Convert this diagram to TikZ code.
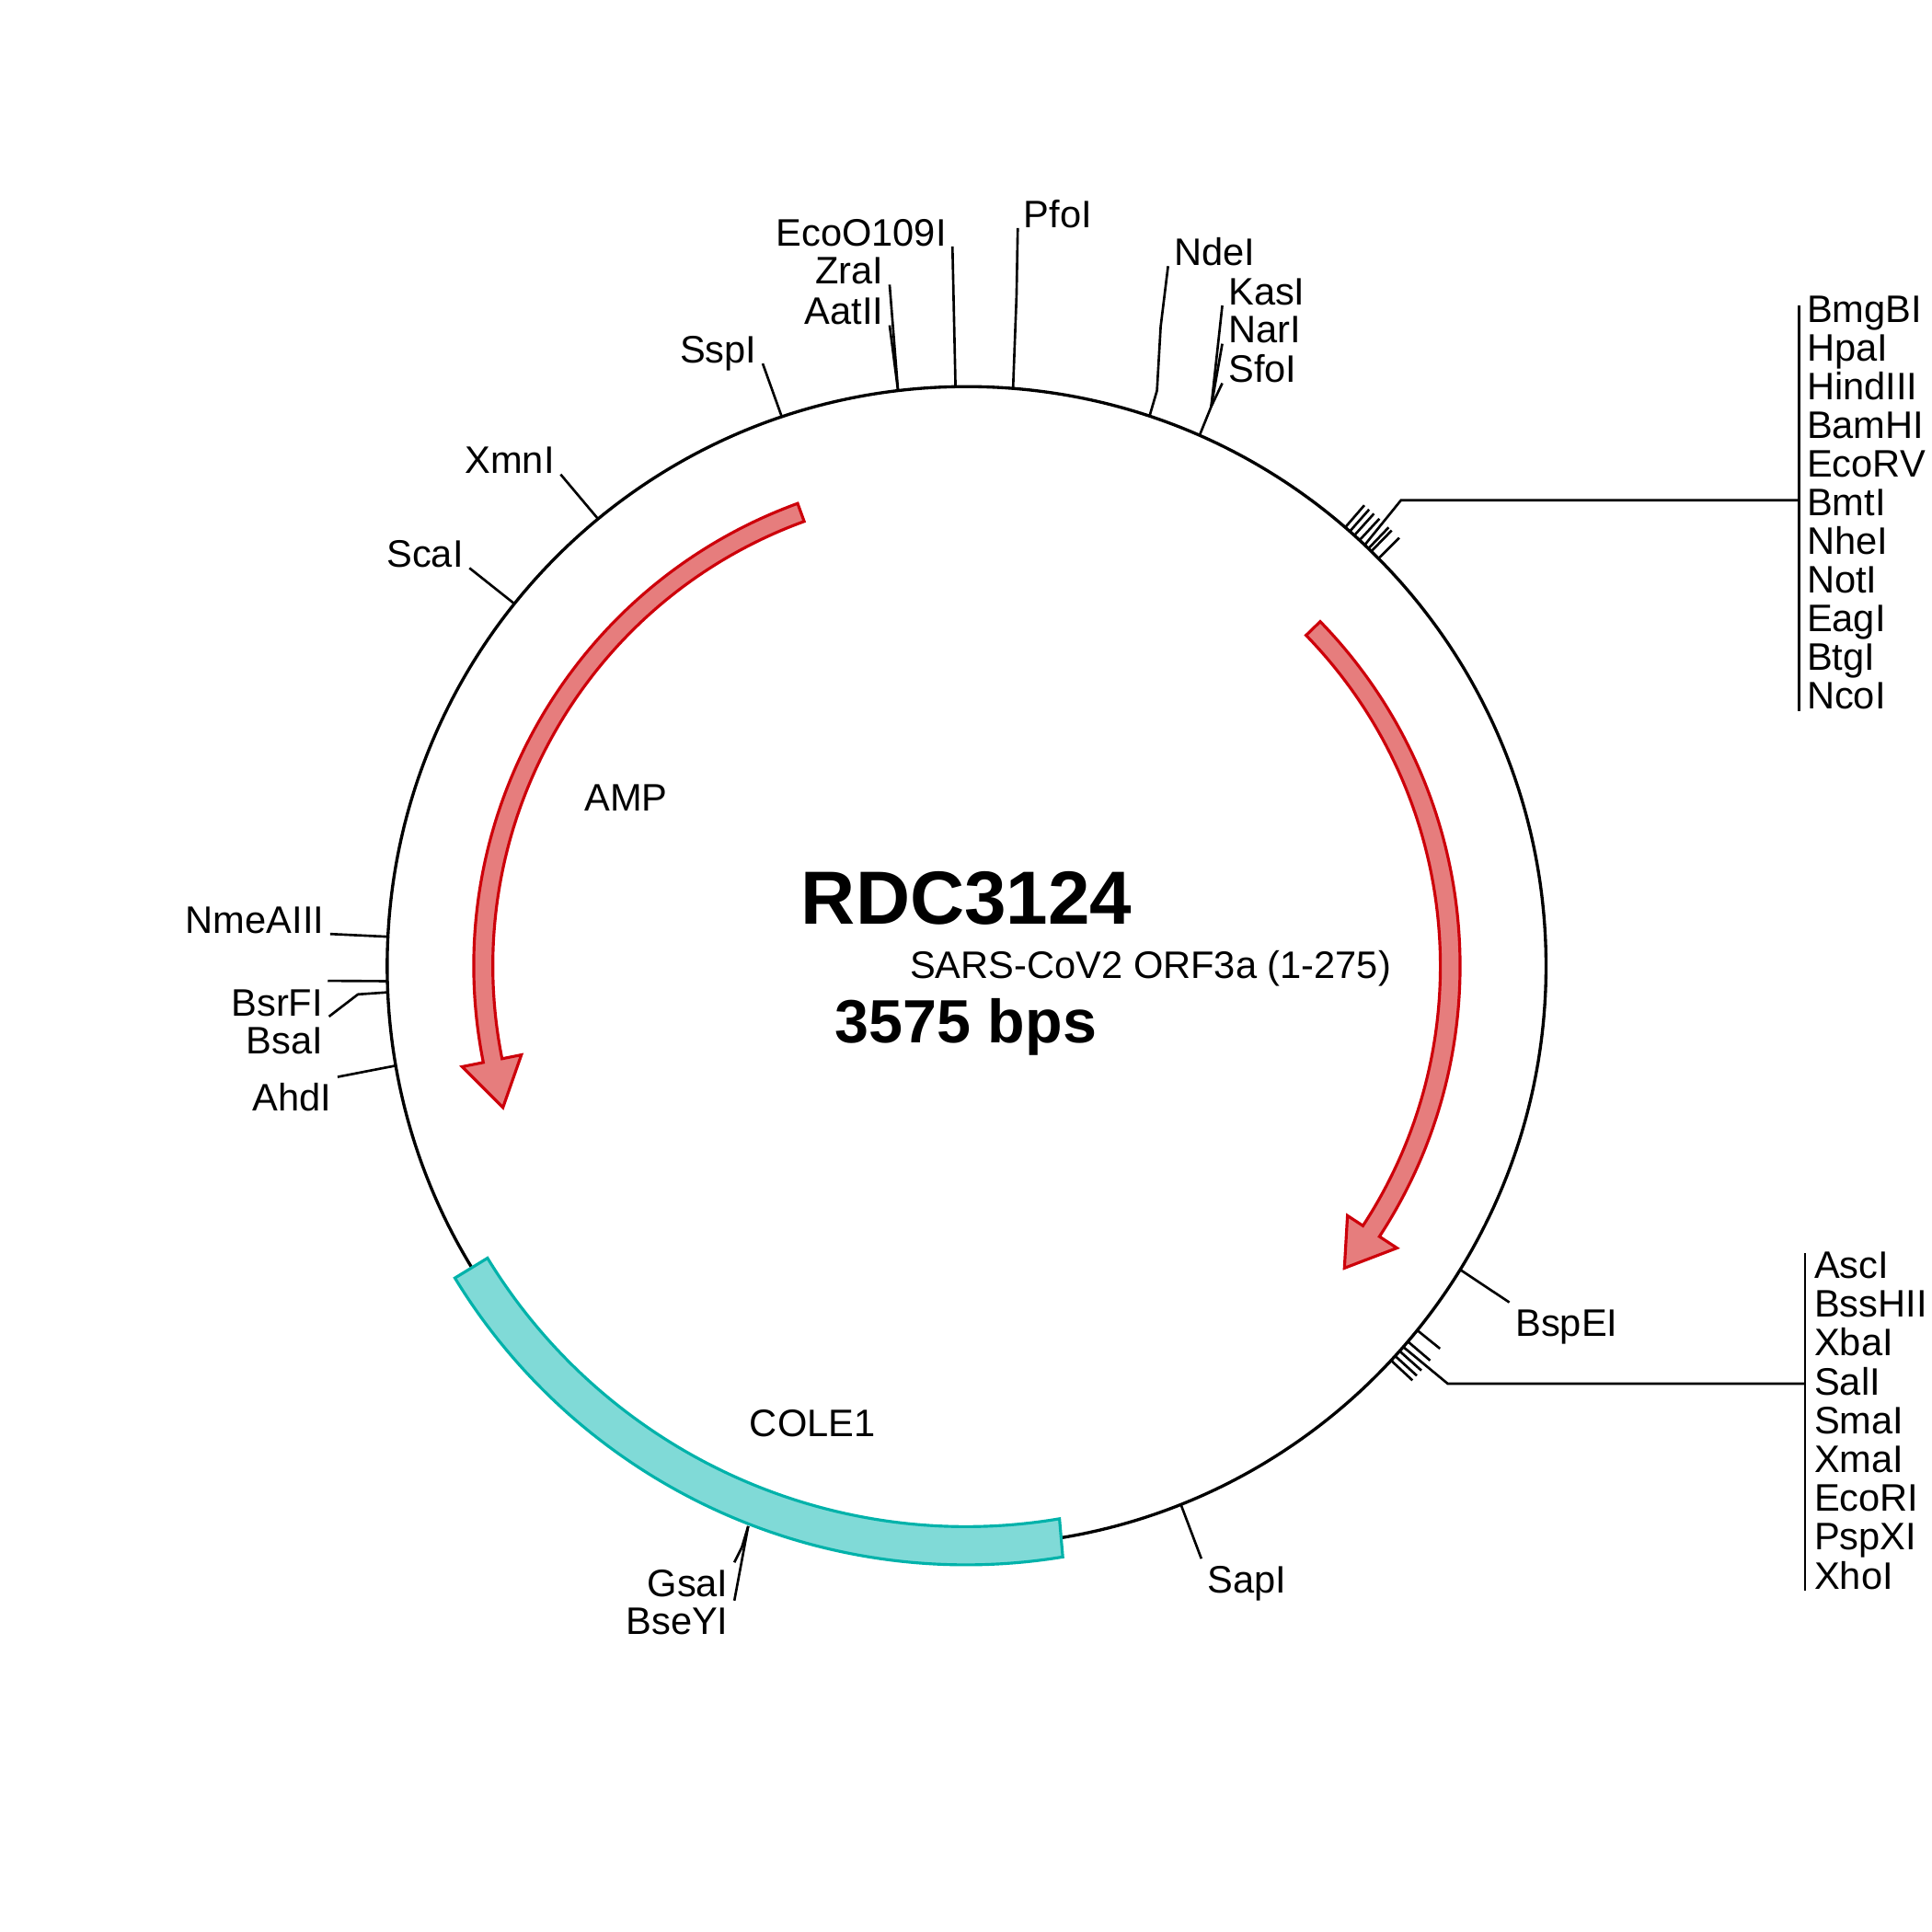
\documentclass[tikz,border=0pt]{standalone}
\usepackage{fontspec}
\setmainfont{Liberation Sans}
\usetikzlibrary{calc}
\definecolor{genered}{RGB}{205,0,10}
\definecolor{genepink}{RGB}{230,125,125}
\definecolor{oriteal}{RGB}{0,178,170}
\definecolor{orifill}{RGB}{128,218,215}
\newcommand{\onring}[2]{($(ring.center)+(-#1:#2)$)}
\begin{document}
\begin{tikzpicture}[
    x=0.013393cm, y=-0.013393cm,
    site/.style={font=\fontsize{11.85}{14}\selectfont, inner xsep=1.7pt, inner ysep=0pt, text depth=0pt},
    sitelow/.style={site, text height=10.3pt},
    leader/.style={line width=0.75pt},
    ringline/.style={line width=0.95pt},
    gene/.style={draw=genered, fill=genepink, line width=0.9pt, line join=miter},
    ori/.style={draw=oriteal, fill=orifill, line width=0.9pt}
]
    \useasboundingbox (0,0) rectangle (1568,1568);

    \node[circle, draw, ringline, minimum size=12.6cm, inner sep=0pt] (ring) at (784.5,784) {};

    % Features
    \begin{scope}[shift={(784,784)}, yscale=-1]
        \draw[ori] (211.4:455) arc[start angle=211.4, end angle=279.6, radius=455] -- (279.3:486) arc[start angle=279.3, end angle=211.4, radius=486] -- cycle;
        \draw[gene] (44.2:385) arc[start angle=44.2, end angle=-33.2, radius=385] -- (-33.2:370) -- (-38.6:393) -- (-33.2:418) -- (-33.2:401) arc[start angle=-33.2, end angle=44.2, radius=401] -- cycle;
        \draw[gene] (110:384) arc[start angle=110, end angle=191.3, radius=384] -- (191.3:368) -- (197:393) -- (191.3:417) -- (191.3:399.5) arc[start angle=191.3, end angle=110, radius=399.5] -- cycle;
    \end{scope}

    % Centre text
    \node[font=\fontsize{23.3}{28}\bfseries\selectfont, anchor=base, inner sep=0pt] (title) at (784.5,750) {RDC3124};
    \node[font=\fontsize{18.9}{22}\bfseries\selectfont, anchor=base, inner sep=0pt] (size) at (784,846) {3575 bps};
    \node[site, anchor=base west, inner xsep=0pt] (insert) at (738,794) {SARS-CoV2 ORF3a (1-275)};
    \node[site, anchor=base west, inner xsep=0pt] (amp) at (474,658) {AMP};
    \node[site, anchor=base west, inner xsep=0pt] (cole) at (608,1166) {COLE1};

    % Single sites, top
    \node[site, anchor=south east] (ScaI) at (381,461) {ScaI};
    \node[site, anchor=south east] (XmnI) at (455,385) {XmnI};
    \node[site, anchor=south east] (SspI) at (619,295) {SspI};
    \node[site, anchor=south east] (AatII) at (722,264) {AatII};
    \node[site, anchor=south east] (ZraI) at (722,231) {ZraI};
    \node[site, anchor=south east] (EcoO) at (773,200) {EcoO109I};
    \node[site, anchor=south west] (PfoI) at (826,185) {PfoI};
    \node[site, anchor=south west] (NdeI) at (948,216) {NdeI};
    \node[site, anchor=south west] (KasI) at (992,248) {KasI};
    \node[site, anchor=south west] (NarI) at (992,279) {NarI};
    \node[site, anchor=south west] (SfoI) at (992,311) {SfoI};

    \coordinate (pfoElbow) at (825,240);
    \coordinate (ndeElbow) at (939,317);
    \coordinate (ndeKnee) at (942,265);
    \coordinate (kasElbow) at (983,330);

    \draw[leader] \onring{141.3}{470} -- (ScaI.south east);
    \draw[leader] \onring{129.5}{470} -- (XmnI.south east);
    \draw[leader] \onring{108.6}{470} -- (SspI.south east);
    \draw[leader] \onring{96.8}{470} -- (AatII.south east);
    \draw[leader] \onring{96.8}{470} -- (ZraI.south east);
    \draw[leader] \onring{91.1}{470} -- (EcoO.south east);
    \draw[leader] \onring{85.4}{470} -- (pfoElbow) -- (PfoI.south west);
    \draw[leader] \onring{71.6}{470} -- (ndeElbow) -- (ndeKnee) -- (NdeI.south west);
    \draw[leader] \onring{66.3}{470} -- (kasElbow) -- (KasI.south west);
    \draw[leader] (kasElbow) -- (NarI.south west);
    \draw[leader] (kasElbow) -- (SfoI.south west);

    % Single sites, left
    \node[site, anchor=south east] (NmeAIII) at (268,758) {NmeAIII};
    \node[site, anchor=south east] (BsrFI) at (267,825) {BsrFI};
    \node[site, anchor=south east] (BsaI) at (267,856) {BsaI};
    \node[sitelow, anchor=north east] (AhdI) at (274,874) {AhdI};
    \coordinate (nmeFree) at (266,796);
    \coordinate (bsrElbow) at (290.5,807);

    \draw[leader] \onring{177.1}{470} -- (NmeAIII.south east);
    \draw[leader] \onring{181.5}{470} -- (nmeFree);
    \draw[leader] \onring{182.6}{470} -- (bsrElbow) -- (BsrFI.south east);
    \draw[leader] \onring{189.9}{470} -- (AhdI.north east);

    % Single sites, bottom
    \node[sitelow, anchor=north east] (GsaI) at (596,1268) {GsaI};
    \node[sitelow, anchor=north east] (BseYI) at (596,1299) {BseYI};
    \node[sitelow, anchor=north west] (SapI) at (975,1265) {SapI};
    \node[sitelow, anchor=north west] (BspEI) at (1225,1057) {BspEI};
    \coordinate (gsaElbow) at (602,1256);

    \draw[leader] \onring{248.7}{488} -- (gsaElbow) -- (GsaI.north east);
    \draw[leader] \onring{248.7}{488} -- (BseYI.north east);
    \draw[leader] \onring{-68.3}{470} -- (SapI.north west);
    \draw[leader] \onring{-31.6}{470} -- (BspEI.north west);

    % Upper cluster
    \foreach \sitename [count=\i from 0] in {BmgBI,HpaI,HindIII,BamHI,EcoRV,BmtI,NheI,NotI,EagI,BtgI,NcoI}
        \node[site, anchor=south west] (\sitename) at (1461.5,{262+31.4*\i}) {\sitename};
    \coordinate (upperTop) at (1460,248);
    \coordinate (upperBottom) at (1460,577);
    \draw[leader] (upperTop) -- (upperBottom);
    \foreach \ang in {49.2,48.6,48.0,47.3,46.1,45.7,44.7}
        \draw[leader] \onring{\ang}{470} -- \onring{\ang}{494};
    \coordinate (upperElbow) at (1137,406);
    \draw[leader] \onring{46.6}{470} -- (upperElbow) -- (upperElbow -| upperTop);

    % Lower cluster
    \foreach \sitename [count=\i from 0] in {AscI,BssHII,XbaI,SalI,SmaI,XmaI,EcoRI,PspXI,XhoI}
        \node[site, anchor=south west] (\sitename) at (1467.5,{1038+31.5*\i}) {\sitename};
    \coordinate (lowerTop) at (1465,1017);
    \coordinate (lowerBottom) at (1465,1291);
    \draw[leader] (lowerTop) -- (lowerBottom);
    \foreach \ang in {-38.95,-40.4,-41.65,-42.3,-42.9}
        \draw[leader] \onring{\ang}{470} -- \onring{\ang}{494};
    \coordinate (lowerElbow) at (1175,1123);
    \draw[leader] \onring{-41.1}{470} -- (lowerElbow) -- (lowerElbow -| lowerTop);
\end{tikzpicture}
\end{document}
